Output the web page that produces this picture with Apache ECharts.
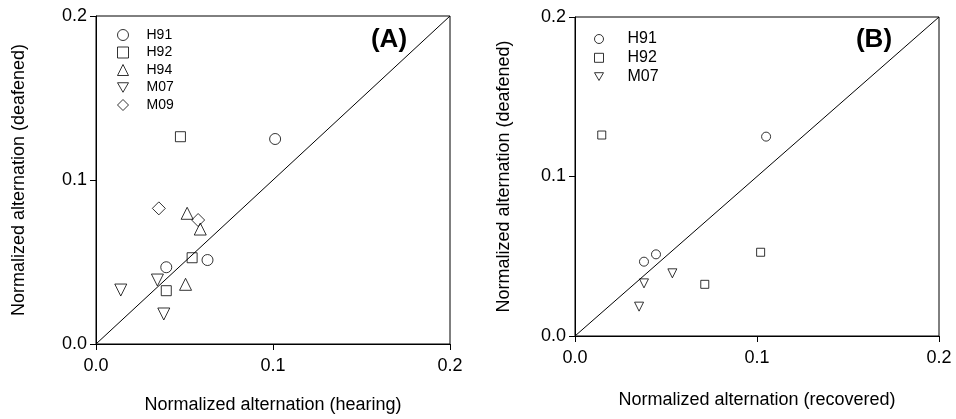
<!DOCTYPE html>
<html>
<head>
<meta charset="UTF-8">
<title>Normalized alternation</title>
<script src="https://cdn.jsdelivr.net/npm/echarts@6/dist/echarts.min.js"></script>
<style>
  html, body { margin: 0; padding: 0; background: #fff; }
  #chart { width: 956px; height: 419px; }
</style>
</head>
<body>
<div id="chart"></div>
<script>
// panel A: hearing (x) vs deafened (y)
var a_H91 = [[0.1012, 0.125], [0.063, 0.0512], [0.0397, 0.0468]];
var a_H92 = [[0.0477, 0.1264], [0.0543, 0.0526], [0.0397, 0.0325]];
var a_H94 = [[0.0515, 0.0797], [0.0589, 0.0701], [0.0506, 0.0364]];
var a_M07 = [[0.0347, 0.039], [0.014, 0.0329], [0.0383, 0.0183]];
var a_M09 = [[0.0355, 0.0827], [0.0577, 0.0756]];
// panel B: recovered (x) vs deafened (y)
var b_H91 = [[0.105, 0.125], [0.0445, 0.0512], [0.0379, 0.0466]];
var b_H92 = [[0.0147, 0.126], [0.102, 0.0525], [0.0713, 0.0324]];
var b_M07 = [[0.0535, 0.0393], [0.0379, 0.033], [0.0352, 0.0184]];
var identity = [[0, 0], [0.2, 0.2]];
var ticks = [0, 0.1, 0.2];

var font = 'Liberation Sans, Arial, sans-serif';
var triDown = 'path://M0,0 L10,0 L5,8.66 Z';

function axis(idx, name, gap, isY) {
  return {
    type: 'value', gridIndex: idx, min: ticks[0], max: ticks[2], interval: 0.1,
    name: name, nameLocation: 'middle', nameGap: gap,
    nameTextStyle: { fontFamily: font, fontSize: 18, color: '#000' },
    axisLine: { show: true, lineStyle: { color: '#000', width: 1 } },
    axisTick: { show: true, length: 6, lineStyle: { color: '#000' } },
    axisLabel: { fontFamily: font, fontSize: 18, color: '#000', margin: isY ? 9 : 13,
      formatter: function (v) { return v.toFixed(1); } },
    splitLine: { show: false }
  };
}

function pts(name, data, sym, size, idx) {
  return {
    name: name, type: 'scatter', xAxisIndex: idx, yAxisIndex: idx,
    data: data, symbol: sym, symbolSize: size,
    itemStyle: { color: 'transparent', borderColor: '#000', borderWidth: 1 }
  };
}

var legendItem = { color: 'transparent', borderColor: '#000', borderWidth: 1 };

var option = {
  animation: false,
  grid: [
    { left: 96, top: 16, width: 354, height: 328, show: true, borderColor: '#000', borderWidth: 1 },
    { left: 575, top: 17, width: 364, height: 319, show: true, borderColor: '#000', borderWidth: 1 }
  ],
  xAxis: [
    axis(0, 'Normalized alternation (hearing)', 52, false),
    axis(1, 'Normalized alternation (recovered)', 55, false)
  ],
  yAxis: [
    axis(0, 'Normalized alternation (deafened)', 68, true),
    axis(1, 'Normalized alternation (deafened)', 62, true)
  ],
  legend: [
    { data: ['H91', 'H92', 'H94', 'M07', 'M09'], orient: 'vertical', left: 112, top: 23,
      itemWidth: 11, itemHeight: 11, itemGap: 3.5, itemStyle: legendItem,
      textStyle: { fontFamily: font, fontSize: 14, color: '#000', padding: [0, 0, 0, 13] } },
    { data: ['H91', 'H92', 'M07'], orient: 'vertical', left: 589, top: 26,
      itemWidth: 9, itemHeight: 9, itemGap: 2.8, itemStyle: legendItem,
      textStyle: { fontFamily: font, fontSize: 16, color: '#000', padding: [0, 0, 0, 19] } }
  ],
  graphic: [
    { type: 'text', x: 389, y: 40, style: { text: '(A)', font: 'bold 26px ' + font, fill: '#000', align: 'center', verticalAlign: 'middle' } },
    { type: 'text', x: 874, y: 40, style: { text: '(B)', font: 'bold 26px ' + font, fill: '#000', align: 'center', verticalAlign: 'middle' } }
  ],
  series: [
    { type: 'line', xAxisIndex: 0, yAxisIndex: 0, data: identity, symbol: 'none',
      lineStyle: { color: '#000', width: 1 }, silent: true },
    { type: 'line', xAxisIndex: 1, yAxisIndex: 1, data: identity, symbol: 'none',
      lineStyle: { color: '#000', width: 1 }, silent: true },
    pts('H91', a_H91, 'circle', 11, 0),
    pts('H92', a_H92, 'rect', 10, 0),
    pts('H94', a_H94, 'triangle', 12, 0),
    pts('M07', a_M07, triDown, 12, 0),
    pts('M09', a_M09, 'diamond', 13, 0),
    pts('H91', b_H91, 'circle', 9, 1),
    pts('H92', b_H92, 'rect', 8, 1),
    pts('M07', b_M07, triDown, 9, 1)
  ]
};

var chart = echarts.init(document.getElementById('chart'));
chart.setOption(option);
</script>
</body>
</html>
